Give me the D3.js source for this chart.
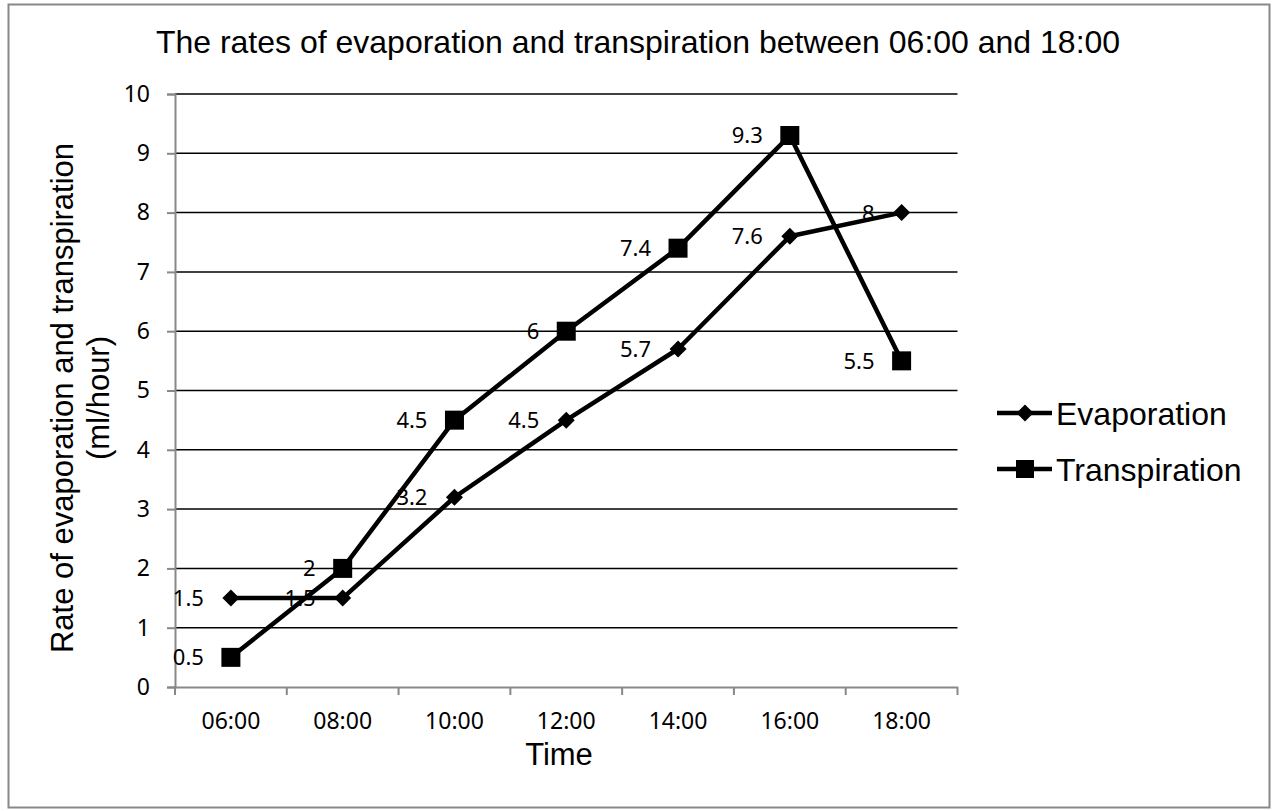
<!DOCTYPE html>
<html>
<head>
<meta charset="utf-8">
<script src="https://cdn.jsdelivr.net/npm/d3@7"></script>
<style>
  body { margin: 0; background: #fff; }
  svg { display: block; }
</style>
</head>
<body>
<svg id="chart" width="1272" height="811"></svg>
<script>
const times = ["06:00", "08:00", "10:00", "12:00", "14:00", "16:00", "18:00"];
const evaporation = [1.5, 1.5, 3.2, 4.5, 5.7, 7.6, 8];
const transpiration = [0.5, 2, 4.5, 6, 7.4, 9.3, 5.5];
const yTicks = [0, 1, 2, 3, 4, 5, 6, 7, 8, 9, 10];

const svg = d3.select("#chart");
const labelFont = "'Noto Sans', 'Open Sans', sans-serif";
const textFont = "'Liberation Sans', Arial, sans-serif";

// --- Outer frame
svg.append("rect")
  .attr("x", 8.5).attr("y", 4.5)
  .attr("width", 1261).attr("height", 803)
  .attr("fill", "none")
  .attr("stroke", "#888")
  .attr("stroke-width", 2);

const x = d3.scaleBand().domain(times).range([175, 957.5]);
const y = d3.scaleLinear().domain([0, 10]).range([687, 94]);

// --- Gridlines
svg.selectAll(".grid")
  .data(yTicks.filter(d => d > 0))
  .enter()
  .append("line")
  .attr("x1", 175).attr("x2", 957.5)
  .attr("y1", d => y(d)).attr("y2", d => y(d))
  .attr("stroke", "#000")
  .attr("stroke-width", 1.5);

// --- Y axis
const yAxis = svg.append("g")
  .attr("transform", "translate(175,0)")
  .call(d3.axisLeft(y).tickValues(yTicks).tickSize(8).tickPadding(17));
yAxis.select(".domain").attr("stroke", "#888").attr("stroke-width", 2);
yAxis.selectAll(".tick line").attr("stroke", "#888").attr("stroke-width", 2);
yAxis.selectAll("text")
  .attr("fill", "#000")
  .style("font-family", labelFont)
  .style("font-size", "23px");

// --- X axis
const xAxis = svg.append("g")
  .attr("transform", "translate(0,687)")
  .call(d3.axisBottom(x).tickSize(0).tickPadding(26));
xAxis.select(".domain").attr("stroke", "#888").attr("stroke-width", 2);
xAxis.selectAll("text")
  .attr("fill", "#000")
  .style("font-family", labelFont)
  .style("font-size", "23px");

// tick marks between categories
const bounds = times.map(t => x(t)).concat([x(times[times.length - 1]) + x.bandwidth()]);
svg.selectAll(".xtick")
  .data(bounds)
  .enter()
  .append("line")
  .attr("x1", d => d).attr("x2", d => d)
  .attr("y1", 687).attr("y2", 695)
  .attr("stroke", "#888")
  .attr("stroke-width", 2);

const cx = t => x(t) + x.bandwidth() / 2;

// --- Series
const line = d3.line()
  .x((d, i) => cx(times[i]))
  .y(d => y(d));

const series = [
  { name: "Evaporation", values: evaporation, marker: "diamond" },
  { name: "Transpiration", values: transpiration, marker: "square" }
];

function drawMarker(g, type, px, py) {
  if (type === "square") {
    g.append("rect")
      .attr("x", px - 9.5).attr("y", py - 9.5)
      .attr("width", 19).attr("height", 19)
      .attr("fill", "#000");
  } else {
    g.append("path")
      .attr("d", `M${px},${py - 8.5}L${px + 8.5},${py}L${px},${py + 8.5}L${px - 8.5},${py}Z`)
      .attr("fill", "#000");
  }
}

series.forEach(s => {
  svg.append("path")
    .datum(s.values)
    .attr("d", line)
    .attr("fill", "none")
    .attr("stroke", "#000")
    .attr("stroke-width", 4.5)
    .attr("stroke-linejoin", "round");
});

series.forEach(s => {
  const g = svg.append("g");
  s.values.forEach((v, i) => drawMarker(g, s.marker, cx(times[i]), y(v)));
});

// --- Data labels
series.forEach(s => {
  svg.append("g").selectAll("text")
    .data(s.values)
    .enter()
    .append("text")
    .attr("x", (d, i) => cx(times[i]) - 27)
    .attr("y", d => y(d))
    .attr("dy", "0.36em")
    .attr("text-anchor", "end")
    .style("font-family", labelFont)
    .style("font-size", "22px")
    .text(d => d);
});

// --- Title and axis titles
svg.append("text")
  .attr("x", 638).attr("y", 53)
  .attr("text-anchor", "middle")
  .style("font-family", textFont)
  .style("font-size", "32px")
  .text("The rates of evaporation and transpiration between 06:00 and 18:00");

svg.append("text")
  .attr("x", 559).attr("y", 765)
  .attr("text-anchor", "middle")
  .style("font-family", textFont)
  .style("font-size", "31px")
  .text("Time");

const yTitle = svg.append("text")
  .attr("transform", "translate(73,398) rotate(-90)")
  .attr("text-anchor", "middle")
  .style("font-family", textFont)
  .style("font-size", "31px");
yTitle.append("tspan").attr("x", 0).attr("y", 0).text("Rate of evaporation and transpiration");
yTitle.append("tspan").attr("x", 0).attr("y", 36).text("(ml/hour)");

// --- Legend
const legend = svg.append("g")
  .selectAll("g")
  .data(series)
  .enter()
  .append("g")
  .attr("transform", (d, i) => `translate(997,${413 + i * 56})`);

legend.append("line")
  .attr("x1", 0).attr("x2", 55)
  .attr("stroke", "#000")
  .attr("stroke-width", 4.5);

legend.each(function(d) {
  const g = d3.select(this);
  if (d.marker === "square") {
    g.append("rect").attr("x", 19).attr("y", -9).attr("width", 18).attr("height", 18).attr("fill", "#000");
  } else {
    g.append("path").attr("d", "M28,-8.5L36.5,0L28,8.5L19.5,0Z").attr("fill", "#000");
  }
});

legend.append("text")
  .attr("x", 59)
  .attr("dy", "0.36em")
  .style("font-family", textFont)
  .style("font-size", "32px")
  .text(d => d.name);
</script>
</body>
</html>
